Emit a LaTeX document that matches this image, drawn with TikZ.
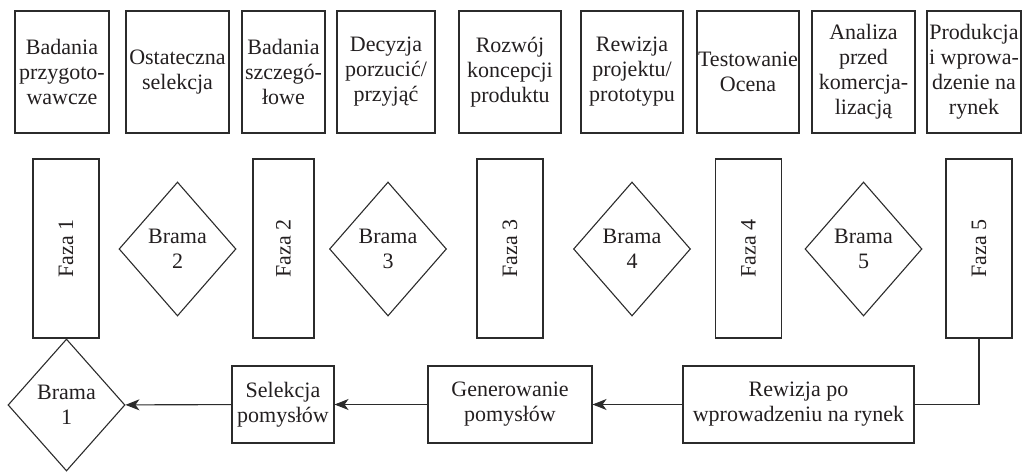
\documentclass[tikz,border=0pt]{standalone}
\usepackage{fontspec}
\setmainfont{Liberation Serif}
\usepackage{graphicx}
\usepackage{tikz}
\usetikzlibrary{calc}
\usetikzlibrary{positioning}
\usetikzlibrary{shapes.geometric}
\usetikzlibrary{arrows.meta}

\definecolor{linia}{HTML}{2B2B2B}
\definecolor{tekst}{HTML}{231F20}

\tikzset{
	napis/.style={font=\fontsize{22}{25}\selectfont, text=tekst, align=center, inner sep=0pt},
	etap/.style={napis, draw=linia, line width=1.1pt, minimum height=122pt},
	faza/.style={napis, draw=linia, line width=1.1pt, minimum width=66pt, minimum height=179pt},
	brama/.style={napis, diamond, draw=linia, line width=1.1pt, minimum width=117pt, minimum height=134pt},
	krok/.style={napis, draw=linia, line width=1.1pt, minimum height=77pt},
	strzalka/.style={draw=linia, line width=1.1pt, -{Stealth[length=14pt, width=11pt, inset=4pt]}}
}

\begin{document}
\begin{tikzpicture}[x=1pt, y=1pt]
		\useasboundingbox (0,0) rectangle (1022,472);

		\node[etap, minimum width=94pt] (E1) at (62, 400) {Badania\\przygoto-\\wawcze};
		\node[etap, minimum width=103pt] (E2) at (177.5, 400) {Ostateczna\\selekcja};
		\node[etap, minimum width=83pt] (E3) at (283.5, 400) {Badania\\szczegó-\\łowe};
		\node[etap, minimum width=98pt] (E4) at (386, 400) {Decyzja\\porzucić/\\przyjąć};
		\node[etap, minimum width=102pt] (E5) at (510, 400) {Rozwój\\koncepcji\\produktu};
		\node[etap, minimum width=102pt] (E6) at (632, 400) {Rewizja\\projektu/\\prototypu};
		\node[etap, minimum width=102pt] (E7) at (748, 400) {Testowanie\\Ocena};
		\node[etap, minimum width=103pt] (E8) at (863.5, 400) {Analiza\\przed\\komercja-\\lizacją};
		\node[etap, minimum width=94pt] (E9) at (974, 400) {Produkcja\\i wprowa-\\dzenie na\\rynek};

		\node[faza] (F1) at (66, 223.5) {\rotatebox{90}{Faza 1}};
		\node[brama] (B2) at (177.5, 223) {Brama\\2};
		\node[faza, minimum width=61pt] (F2) at (283.5, 223.5) {\rotatebox{90}{Faza 2}};
		\node[brama] (B3) at (388, 223) {Brama\\3};
		\node[faza] (F3) at (510, 223.5) {\rotatebox{90}{Faza 3}};
		\node[brama] (B4) at (632, 223) {Brama\\4};
		\node[faza] (F4) at (748.5, 223.5) {\rotatebox{90}{Faza 4}};
		\node[brama] (B5) at (863.5, 223) {Brama\\5};
		\node[faza] (F5) at (979, 223.5) {\rotatebox{90}{Faza 5}};

		\node[brama, minimum height=132pt] (B1) at (66.5, 67) {Brama\\1};
		\node[krok, minimum width=102pt] (S) at (283, 67.5) {Selekcja\\pomysłów};
		\node[krok, minimum width=164pt] (G) at (510, 67.5) {Generowanie\\pomysłów};
		\node[krok, minimum width=231pt] (R) at (798.5, 67.5) {Rewizja po\\wprowadzeniu na rynek};

		\draw[draw=linia, line width=1.1pt] (F5.south) |- (R.east);
		\draw[strzalka] (R) -- (G);
		\draw[strzalka] (G) -- (S);
		\draw[strzalka] (S) -- (B1);
    \end{tikzpicture}
\end{document}
